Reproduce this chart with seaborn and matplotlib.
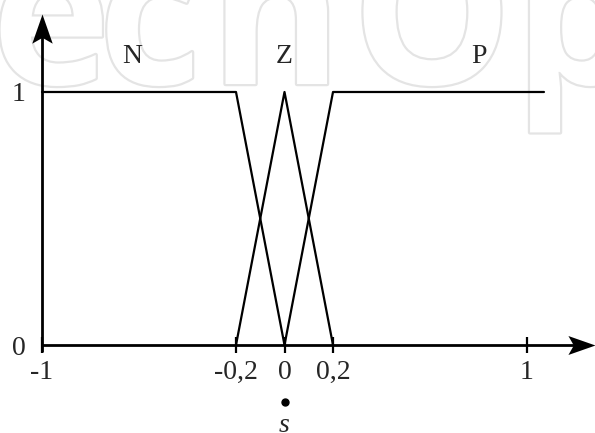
import matplotlib
matplotlib.use("Agg")
import matplotlib.pyplot as plt
import matplotlib.patheffects as pe
from matplotlib.path import Path
import numpy as np
import pandas as pd
import seaborn as sns

# Membership functions of the switching variable s
set_names = ["N", "Z", "P"]
n_x = [-1.0, -0.2, 0.0]
n_mu = [1.0, 1.0, 0.0]
z_x = [-0.2, 0.0, 0.2]
z_mu = [0.0, 1.0, 0.0]
p_x = [0.0, 0.2, 1.07]
p_mu = [0.0, 1.0, 1.0]

x_ticks = [-1.0, -0.2, 0.0, 0.2, 1.0]
x_tick_labels = ["-1", "-0,2", "0", "0,2", "1"]
y_ticks = [0.0, 1.0]
y_tick_labels = ["0", "1"]

df = pd.concat([
    pd.DataFrame({"s": n_x, "mu": n_mu, "set": "N"}),
    pd.DataFrame({"s": z_x, "mu": z_mu, "set": "Z"}),
    pd.DataFrame({"s": p_x, "mu": p_mu, "set": "P"}),
], ignore_index=True)

sns.set_style("white")
plt.rcParams["font.family"] = ["Liberation Serif", "DejaVu Serif"]

fig = plt.figure(figsize=(5.95, 4.33), dpi=100)
ax = fig.add_axes([0, 0, 1, 1])
ax.set_facecolor("none")

# faint publisher watermark behind the plot (outlined letters)
wm_letters = ["e", "c", "h", "O", "p"]
wm_centers = [51, 150, 276, 432, 578]
for ch, cx in zip(wm_letters, wm_centers):
    ax.text(cx / 595, 1 - 84 / 433, ch, transform=fig.transFigure,
            fontsize=145, fontweight="bold", family="Open Sans",
            color="white", ha="center", va="baseline", zorder=0,
            path_effects=[pe.withStroke(linewidth=3.2,
                                        foreground="#e4e4e4")])

sns.lineplot(data=df, x="s", y="mu", hue="set", units="set",
             estimator=None, sort=False, palette=["black"] * 3,
             linewidth=1.6, legend=False, ax=ax, zorder=3)

ax.set_xlim(-1.1732, 1.2804)
ax.set_ylim(-0.3478, 1.3636)

# axis lines with swept arrow heads
ax.plot([-1.0, 1.2], [0, 0], color="black", lw=2.0, zorder=3,
        solid_capstyle="butt")
ax.plot([-1.0, -1.0], [-0.028, 1.22], color="black", lw=2.0, zorder=3,
        solid_capstyle="butt")
head_right = Path([(0, 0), (-1, 0.35), (-0.8, 0), (-1, -0.35), (0, 0)],
                  [Path.MOVETO, Path.LINETO, Path.LINETO, Path.LINETO,
                   Path.CLOSEPOLY])
head_up = Path([(0, 0), (0.35, -1), (0, -0.8), (-0.35, -1), (0, 0)],
               [Path.MOVETO, Path.LINETO, Path.LINETO, Path.LINETO,
                Path.CLOSEPOLY])
ax.plot([1.279], [0], marker=head_right, markersize=39, color="black",
        markeredgewidth=0, zorder=4, clip_on=False)
ax.plot([-1.0], [1.31], marker=head_up, markersize=42, color="black",
        markeredgewidth=0, zorder=4, clip_on=False)

for side in ["top", "right", "left", "bottom"]:
    ax.spines[side].set_color("none")
ax.spines["bottom"].set_position(("data", 0))
ax.spines["left"].set_position(("data", -1.0))

ax.set_xticks(x_ticks, x_tick_labels)
ax.set_yticks(y_ticks, y_tick_labels)
ax.tick_params(axis="x", direction="inout", length=11.5, width=1.6,
               color="black", labelsize=20, pad=5, bottom=True)
ax.tick_params(axis="y", length=0, labelsize=20, pad=12, left=True)
ax.set_xlabel("")
ax.set_ylabel("")

label_x = [-0.63, 0.0, 0.80]
for name, lx in zip(set_names, label_x):
    ax.text(lx, 1.142, name, fontsize=20, ha="center", va="center",
            zorder=5)

# variable name under the axis
ax.plot([0.0], [-0.225], marker="o", markersize=5, color="black")
ax.text(0.0, -0.343, "s", fontsize=20, style="italic", ha="center",
        va="baseline")

fig.savefig("out.png", dpi=100)
